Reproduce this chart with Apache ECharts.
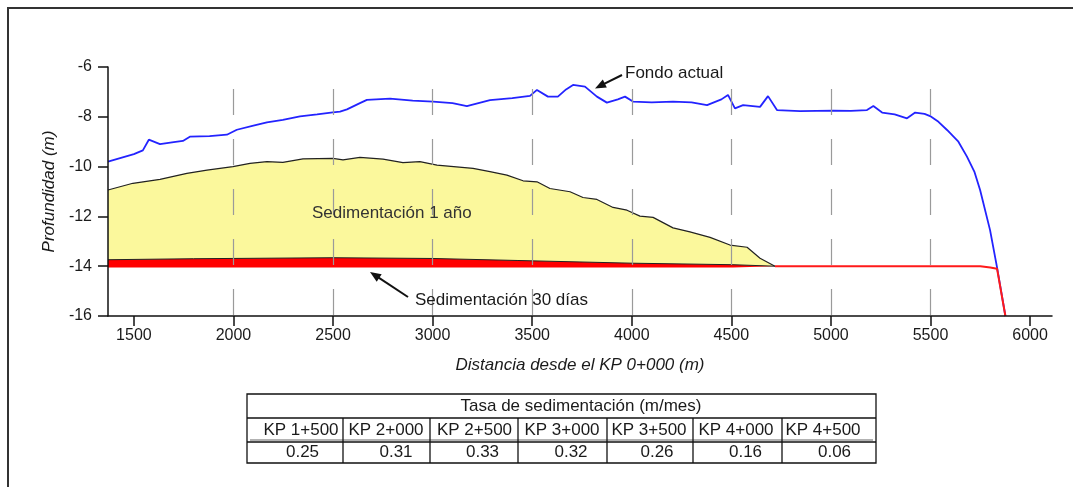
<!DOCTYPE html>
<html>
<head>
<meta charset="utf-8">
<script src="https://cdn.jsdelivr.net/npm/echarts@6/dist/echarts.min.js"></script>
<style>
html, body { margin: 0; padding: 0; background: #fff; }
#chart { width: 1073px; height: 487px; }
</style>
</head>
<body>
<div id="chart"></div>
<script>
// perfil del fondo actual [distancia, profundidad]
var fondoActual = [
  [1370, -9.80], [1500, -9.50], [1545, -9.35], [1575, -8.92], [1631, -9.10], [1700, -9.02],
  [1746, -8.97], [1781, -8.80], [1880, -8.78], [1967, -8.72], [2017, -8.52], [2100, -8.35],
  [2168, -8.22], [2248, -8.12], [2334, -7.98], [2420, -7.90], [2499, -7.82], [2535, -7.79],
  [2570, -7.70], [2635, -7.45], [2670, -7.32], [2786, -7.27], [2900, -7.35], [3002, -7.39],
  [3100, -7.45], [3172, -7.57], [3288, -7.33], [3400, -7.25], [3489, -7.16], [3524, -6.92],
  [3579, -7.19], [3629, -7.19], [3670, -6.90], [3705, -6.72], [3765, -6.79], [3825, -7.19],
  [3875, -7.43], [3930, -7.30], [3966, -7.19], [4006, -7.39], [4100, -7.42], [4207, -7.39],
  [4300, -7.42], [4378, -7.53], [4450, -7.30], [4483, -7.12], [4518, -7.66], [4559, -7.53],
  [4644, -7.60], [4684, -7.17], [4729, -7.73], [4845, -7.77], [5011, -7.75], [5100, -7.76],
  [5181, -7.73], [5213, -7.57], [5257, -7.83], [5320, -7.90], [5382, -8.06], [5423, -7.83],
  [5470, -7.88], [5498, -7.97], [5540, -8.20], [5583, -8.53], [5640, -9.00], [5683, -9.60],
  [5720, -10.20], [5749, -10.94], [5799, -12.55], [5834, -14.05], [5876, -16.0]
];
// techo de la sedimentación a 1 año
var sed1Anio = [
  [1370, -10.94], [1495, -10.67], [1631, -10.51], [1766, -10.27], [1867, -10.14], [1997, -10.00],
  [2083, -9.87], [2168, -9.80], [2248, -9.83], [2349, -9.69], [2499, -9.67], [2550, -9.73],
  [2635, -9.63], [2751, -9.70], [2851, -9.84], [2936, -9.80], [3022, -9.94], [3203, -10.07],
  [3288, -10.20], [3373, -10.34], [3454, -10.57], [3524, -10.61], [3589, -10.88], [3690, -11.01],
  [3755, -11.24], [3825, -11.32], [3906, -11.64], [3976, -11.75], [4041, -11.99], [4107, -12.04],
  [4207, -12.46], [4292, -12.62], [4393, -12.84], [4493, -13.15], [4579, -13.24], [4644, -13.68],
  [4719, -14.00]
];
// techo de la sedimentación a 30 días
var sed30Dias = [
  [1370, -13.74], [1800, -13.70], [2500, -13.66], [3000, -13.69], [3424, -13.77],
  [4006, -13.88], [4508, -13.94], [4719, -14.00]
];
// fondo de diseño (línea roja)
var fondoDiseno = [
  [4719, -14.00], [5750, -14.00], [5800, -14.05], [5834, -14.10], [5876, -16.0]
];
var xTicks = [1500, 2000, 2500, 3000, 3500, 4000, 4500, 5000, 5500, 6000];

var tablaTitulo = 'Tasa de sedimentación (m/mes)';
var kpLabels = ['KP 1+500', 'KP 2+000', 'KP 2+500', 'KP 3+000', 'KP 3+500', 'KP 4+000', 'KP 4+500'];
var tasas = ['0.25', '0.31', '0.33', '0.32', '0.26', '0.16', '0.06'];

var FONT = "'Liberation Sans', Arial, sans-serif";

// layout de la tabla (px)
var colEdges = [247, 343, 430, 518, 607, 693, 782, 876];
var rowEdges = [394, 418, 442, 463];
var kpCenters = [301, 386, 474.5, 562, 649, 736, 823];
var valCenters = [302.5, 396, 482.5, 571, 657, 745.5, 834.5];

function txt(x, y, s, align, size, color, extra) {
  var st = { text: s, font: (size || 17) + 'px ' + FONT, fill: color || '#1a1a1a',
    align: align || 'left', verticalAlign: 'middle' };
  return { type: 'text', x: x, y: y, z: 100, style: Object.assign(st, extra || {}) };
}
function ln(x1, y1, x2, y2, color, w) {
  return { type: 'line', z: 100, shape: { x1: x1, y1: y1, x2: x2, y2: y2 },
    style: { stroke: color || '#111', lineWidth: w || 1.3 } };
}
function arrow(x1, y1, x2, y2) {
  var dx = x2 - x1, dy = y2 - y1, L = Math.sqrt(dx * dx + dy * dy);
  var ux = dx / L, uy = dy / L, hl = 11, hw = 4.5;
  var bx = x2 - ux * hl, by = y2 - uy * hl;
  return [
    ln(x1, y1, bx + ux * 2, by + uy * 2, '#111', 2),
    { type: 'polygon', z: 100, shape: { points: [[x2, y2], [bx - uy * hw, by + ux * hw], [bx + uy * hw, by - ux * hw]] },
      style: { fill: '#111' } }
  ];
}

var graphics = [];
// marco de la figura
graphics.push({ type: 'rect', z: 100, shape: { x: 8, y: 8, width: 1200, height: 600 },
  style: { fill: null, stroke: '#333', lineWidth: 2 } });
// anotaciones
graphics = graphics.concat(arrow(622, 75, 595, 88.5));
graphics.push(txt(625, 73, 'Fondo actual'));
graphics.push(txt(312, 213, 'Sedimentación 1 año', 'left', 17, '#333'));
graphics = graphics.concat(arrow(408, 297, 370, 272));
graphics.push(txt(415, 300, 'Sedimentación 30 días'));
// tabla
var tx0 = colEdges[0], tx1 = colEdges[colEdges.length - 1];
graphics.push({ type: 'rect', z: 100, shape: { x: tx0, y: rowEdges[0], width: tx1 - tx0, height: rowEdges[3] - rowEdges[0] },
  style: { fill: null, stroke: '#111', lineWidth: 1.3 } });
graphics.push(ln(tx0 + 3, 440, tx1 - 3, 440, '#999', 1.5));
graphics.push(ln(tx0, rowEdges[1], tx1, rowEdges[1]));
graphics.push(ln(tx0, rowEdges[2], tx1, rowEdges[2]));
for (var i = 1; i < colEdges.length - 1; i++) {
  graphics.push(ln(colEdges[i], rowEdges[1], colEdges[i], rowEdges[3]));
}
graphics.push(txt(581, 406, tablaTitulo, 'center', 17));
for (var j = 0; j < kpLabels.length; j++) {
  graphics.push(txt(kpCenters[j], 430, kpLabels[j], 'center', 17));
  graphics.push(txt(valCenters[j], 452.5, tasas[j], 'center', 17));
}

var chart = echarts.init(document.getElementById('chart'), null, { renderer: 'canvas' });
chart.setOption({
  backgroundColor: '#fff',
  animation: false,
  grid: { left: 108, right: 21, top: 67, bottom: 171, containLabel: false, outerBoundsMode: 'none' },
  xAxis: {
    type: 'value', min: 1370, max: 6110, z: 10,
    name: 'Distancia desde el KP 0+000 (m)', nameLocation: 'middle', nameGap: 41,
    nameTextStyle: { fontStyle: 'italic', fontSize: 17, color: '#1a1a1a', fontFamily: FONT },
    axisLine: { show: true, onZero: false, lineStyle: { color: '#111', width: 1.5 } },
    axisTick: { show: true, length: 10, customValues: xTicks, lineStyle: { color: '#111', width: 1.5 } },
    axisLabel: { customValues: xTicks, margin: 12, fontSize: 16, color: '#1a1a1a', fontFamily: FONT,
      formatter: function (v) { return String(v); } },
    splitLine: { show: true, showMinLine: false, showMaxLine: false,
      lineStyle: { color: '#9a9a9a', width: 1.2, type: [26, 24], dashOffset: 28 } }
  },
  yAxis: {
    type: 'value', min: -16, max: -6, interval: 2, z: 10,
    name: 'Profundidad (m)', nameLocation: 'middle', nameGap: 37, nameRotate: 90,
    nameTextStyle: { fontStyle: 'italic', fontSize: 17, color: '#1a1a1a', fontFamily: FONT },
    axisLine: { show: true, onZero: false, lineStyle: { color: '#111', width: 1.5 } },
    axisTick: { show: true, length: 10, lineStyle: { color: '#111', width: 1.5 } },
    axisLabel: { margin: 16, fontSize: 16, color: '#1a1a1a', fontFamily: FONT },
    splitLine: { show: false }
  },
  series: [
    {
      name: 'Sedimentación 1 año', type: 'line', data: sed1Anio, z: 2,
      showSymbol: false, symbol: 'none',
      lineStyle: { color: '#222', width: 1.2 },
      areaStyle: { color: '#fbf89c', opacity: 1, origin: -14 }
    },
    {
      name: 'Sedimentación 30 días', type: 'line', data: sed30Dias, z: 3,
      showSymbol: false, symbol: 'none',
      lineStyle: { color: '#222', width: 1 },
      areaStyle: { color: '#ff0000', opacity: 1, origin: -14.05 }
    },
    {
      name: 'Fondo de diseño', type: 'line', data: fondoDiseno, z: 5,
      showSymbol: false, symbol: 'none',
      lineStyle: { color: '#ff1a1a', width: 2 }
    },
    {
      name: 'Fondo actual', type: 'line', data: fondoActual, z: 4,
      showSymbol: false, symbol: 'none',
      lineStyle: { color: '#2323ff', width: 1.8 }
    }
  ],
  graphic: graphics
});
</script>
</body>
</html>
